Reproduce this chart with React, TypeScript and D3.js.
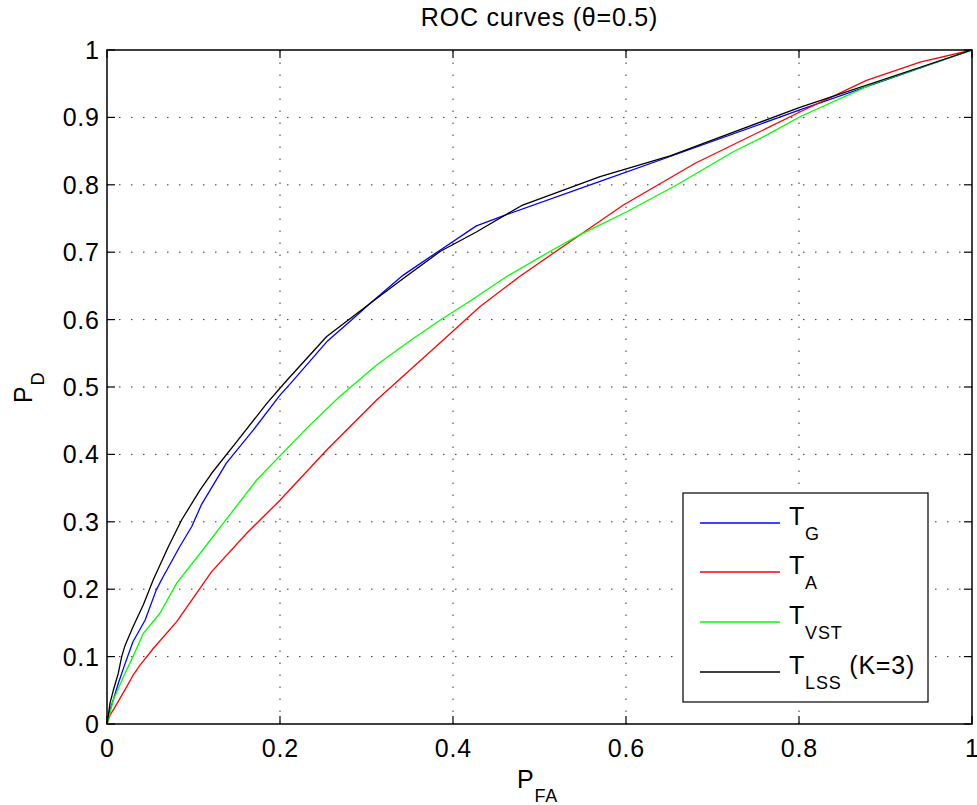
import React from "react";
import * as d3 from "d3";

const tgX = [0, 0.0035, 0.0073, 0.013, 0.021, 0.030, 0.044, 0.057, 0.063, 0.084, 0.098, 0.109, 0.138, 0.169, 0.200, 0.212, 0.254, 0.285, 0.304, 0.3425, 0.385, 0.427, 0.458, 0.57, 0.651, 0.801, 1];
const tgY = [0, 0.021, 0.036, 0.060, 0.090, 0.122, 0.154, 0.199, 0.214, 0.263, 0.293, 0.325, 0.387, 0.436, 0.488, 0.505, 0.567, 0.602, 0.624, 0.666, 0.703, 0.739, 0.754, 0.805, 0.842, 0.911, 1];

const taX = [0, 0.0035, 0.0073, 0.0227, 0.0304, 0.038, 0.0535, 0.0806, 0.121, 0.1615, 0.200, 0.254, 0.312, 0.389, 0.431, 0.477, 0.547, 0.597, 0.68, 0.763, 0.801, 0.878, 0.94, 1];
const taY = [0, 0.013, 0.021, 0.055, 0.073, 0.087, 0.112, 0.152, 0.226, 0.283, 0.332, 0.4065, 0.481, 0.570, 0.619, 0.664, 0.726, 0.770, 0.832, 0.884, 0.908, 0.955, 0.982, 1];

const tvX = [0, 0.0054, 0.0073, 0.019, 0.030, 0.042, 0.061, 0.0806, 0.1075, 0.1345, 0.173, 0.231, 0.269, 0.312, 0.352, 0.385, 0.4216, 0.462, 0.512, 0.547, 0.601, 0.659, 0.724, 0.763, 0.801, 0.886, 1];
const tvY = [0, 0.026, 0.036, 0.070, 0.100, 0.1345, 0.164, 0.209, 0.253, 0.298, 0.362, 0.439, 0.486, 0.533, 0.570, 0.599, 0.629, 0.664, 0.701, 0.726, 0.760, 0.800, 0.849, 0.874, 0.901, 0.950, 1];

const tlX = [0, 0.0035, 0.0073, 0.013, 0.017, 0.021, 0.030, 0.042, 0.0535, 0.0709, 0.0864, 0.1075, 0.121, 0.150, 0.185, 0.208, 0.254, 0.304, 0.3425, 0.385, 0.427, 0.479, 0.57, 0.651, 0.801, 1];
const tlY = [0, 0.031, 0.050, 0.075, 0.100, 0.117, 0.144, 0.177, 0.214, 0.263, 0.303, 0.347, 0.372, 0.419, 0.476, 0.510, 0.575, 0.624, 0.661, 0.701, 0.730, 0.769, 0.812, 0.843, 0.915, 1];

const xTicks = [0, 0.2, 0.4, 0.6, 0.8, 1];
const yTicks = [0, 0.1, 0.2, 0.3, 0.4, 0.5, 0.6, 0.7, 0.8, 0.9, 1];

const seriesNames = ["G", "A", "VST", "LSS"];
const seriesColors = ["#0000ff", "#ff0000", "#00ff00", "#000000"];
const seriesXs = [tgX, taX, tvX, tlX];
const seriesYs = [tgY, taY, tvY, tlY];

const FONT = "'Liberation Sans', Arial, Helvetica, sans-serif";

export default function App() {
  const W = 977, H = 805;
  const left = 107, right = 972, top = 50, bottom = 724;
  const x = d3.scaleLinear().domain([0, 1]).range([left, right]);
  const y = d3.scaleLinear().domain([0, 1]).range([bottom, top]);
  const line = d3.line<[number, number]>().x(d => x(d[0])).y(d => y(d[1]));

  const fmt = (v: number) => String(v);
  const tickLen = 8;
  const gridStyle = { stroke: "#333", strokeWidth: 1, strokeDasharray: "1.5 10.5" };
  const FS = 25;
  const SUB = 18;
  const LS = 0.8;

  const legX = 683, legY = 493, legW = 245, legH = 209;
  const legRows = [523, 572, 622, 672];

  return (
    <svg width={W} height={H} style={{ position: "absolute", left: 0, top: 0, background: "#fff" }} fontFamily={FONT}>
      <rect x={0} y={0} width={W} height={H} fill="#fff" />
      {xTicks.filter(t => t > 0 && t < 1).map(t => (
        <line key={"gx" + t} x1={x(t)} x2={x(t)} y1={y(0)} y2={y(1)} {...gridStyle} />
      ))}
      {yTicks.filter(t => t > 0 && t < 1).map(t => (
        <line key={"gy" + t} x1={x(0)} x2={x(1)} y1={y(t)} y2={y(t)} {...gridStyle} />
      ))}
      {seriesXs.map((xs, i) => (
        <path key={"s" + i} d={line(xs.map((v, j) => [v, seriesYs[i][j]]) as [number, number][]) || ""}
          fill="none" stroke={seriesColors[i]} strokeWidth={1.3} strokeLinejoin="round" />
      ))}
      <rect x={left} y={top} width={right - left} height={bottom - top} fill="none" stroke="#000" strokeWidth={1.5} />
      {xTicks.map(t => (
        <g key={"tx" + t}>
          <line x1={x(t)} x2={x(t)} y1={bottom} y2={bottom - tickLen} stroke="#000" strokeWidth={1.2} />
          <line x1={x(t)} x2={x(t)} y1={top} y2={top + tickLen} stroke="#000" strokeWidth={1.2} />
          <text x={x(t) + LS / 2} y={757} textAnchor="middle" fontSize={FS} letterSpacing={LS} fill="#000">{fmt(t)}</text>
        </g>
      ))}
      {yTicks.map(t => (
        <g key={"ty" + t}>
          <line x1={left} x2={left + tickLen} y1={y(t)} y2={y(t)} stroke="#000" strokeWidth={1.2} />
          <line x1={right} x2={right - tickLen} y1={y(t)} y2={y(t)} stroke="#000" strokeWidth={1.2} />
          <text x={99 + LS} y={y(t) + 9} textAnchor="end" fontSize={FS} letterSpacing={LS} fill="#000">{fmt(t)}</text>
        </g>
      ))}
      <text x={(left + right) / 2} y={26} textAnchor="middle" fontSize={FS} letterSpacing={LS} fill="#000">ROC curves (θ=0.5)</text>
      <text x={517} y={788} fontSize={FS} letterSpacing={LS} fill="#000">P<tspan dy={14} fontSize={SUB}>FA</tspan></text>
      <text transform="translate(32,403) rotate(-90)" fontSize={FS} letterSpacing={LS} fill="#000">P<tspan dy={12} fontSize={SUB}>D</tspan></text>
      <rect x={legX} y={legY} width={legW} height={legH} fill="#fff" stroke="#000" strokeWidth={1.2} />
      {seriesNames.map((n, i) => (
        <g key={"lg" + i}>
          <line x1={700} x2={780} y1={legRows[i]} y2={legRows[i]} stroke={seriesColors[i]} strokeWidth={1.3} />
          <text x={789} y={legRows[i] + 2} fontSize={FS} letterSpacing={LS} fill="#000">T<tspan dy={15} fontSize={SUB}>{n}</tspan>
            {n === "LSS" ? <tspan dy={-15} fontSize={FS}> (K=3)</tspan> : null}
          </text>
        </g>
      ))}
    </svg>
  );
}
